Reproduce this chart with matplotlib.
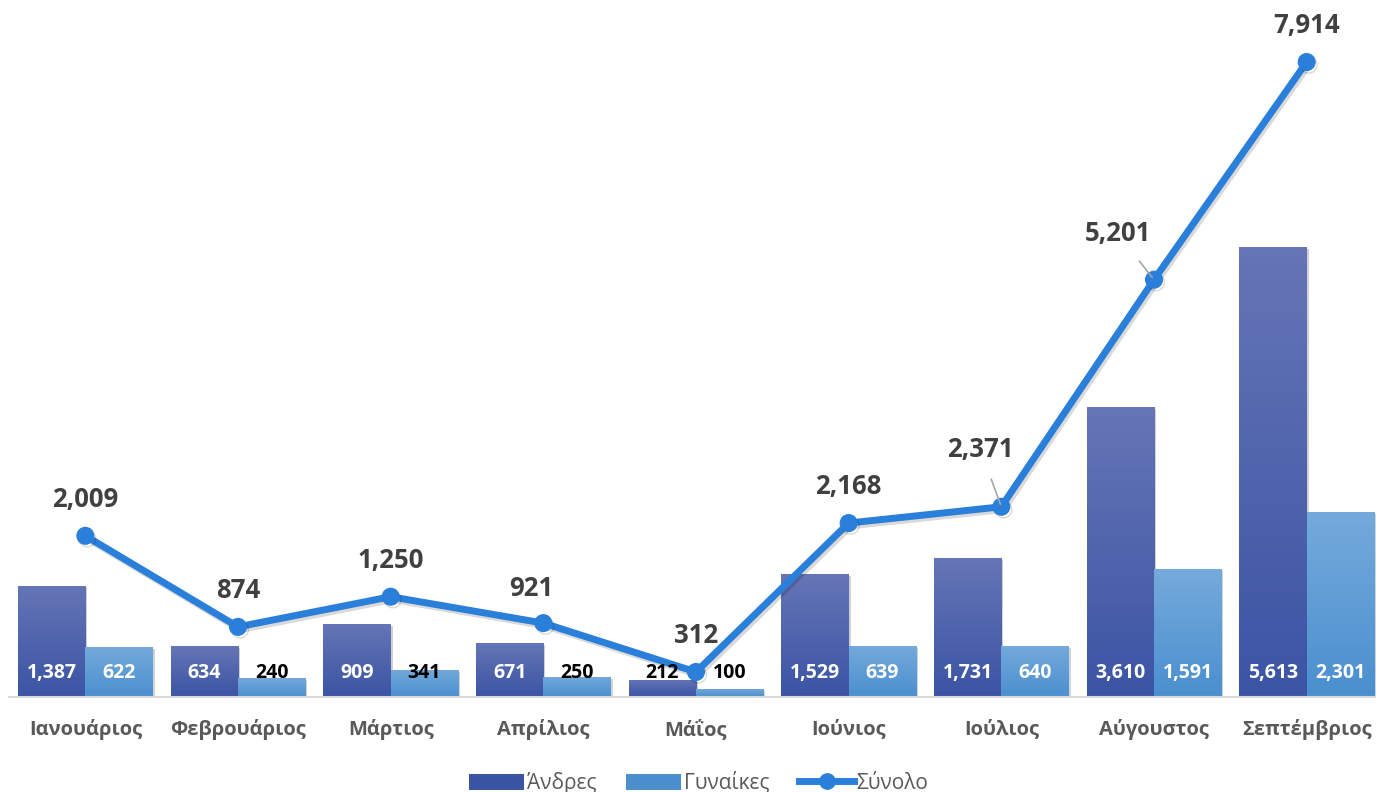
import matplotlib
matplotlib.use("Agg")
import matplotlib.pyplot as plt
import numpy as np
from matplotlib.lines import Line2D
from matplotlib.patches import Patch
import matplotlib.patheffects as pe

plt.rcParams['font.family'] = ['Open Sans', 'DejaVu Sans']

months = ["Ιανουάριος", "Φεβρουάριος", "Μάρτιος", "Απρίλιος", "Μάΐος",
          "Ιούνιος", "Ιούλιος", "Αύγουστος", "Σεπτέμβριος"]
men = [1387, 634, 909, 671, 212, 1529, 1731, 3610, 5613]
women = [622, 240, 341, 250, 100, 639, 640, 1591, 2301]
total = [2009, 874, 1250, 921, 312, 2168, 2371, 5201, 7914]
series_names = ["Άνδρες", "Γυναίκες", "Σύνολο"]

W, H = 1376, 792
fig = plt.figure(figsize=(W / 100, H / 100), dpi=100)
ax = fig.add_axes([9 / W, 1 - 697 / H, 1374 / W, 690 / H])

x = np.arange(len(months))
bw = 0.44
men_c = ("#6575b6", "#3b54a4")
wom_c = ("#74aadb", "#4b8fcf")
line_c = "#2a7fda"

bars_m = ax.bar(x - bw / 2, men, bw, color=men_c[1], zorder=2)
bars_w = ax.bar(x + bw / 2, women, bw, color=wom_c[1], zorder=2)

def gradient(bars, c):
    top = np.array(matplotlib.colors.to_rgb(c[0]))
    bot = np.array(matplotlib.colors.to_rgb(c[1]))
    t = np.linspace(0, 1, 64)[:, None]
    img = (top[None, :] * (1 - t) + bot[None, :] * t)[:, None, :]
    for b in bars:
        x0, y0 = b.get_x(), b.get_y()
        im = ax.imshow(img, extent=(x0, x0 + b.get_width(), y0, y0 + b.get_height()),
                       aspect='auto', zorder=2.1, origin='upper')
        im.set_clip_path(b)
        b.set_path_effects([pe.SimplePatchShadow(offset=(1.5, -1.5), alpha=0.2), pe.Normal()])

gradient(bars_m, men_c)
gradient(bars_w, wom_c)

ax.plot(x, total, color=line_c, lw=5, marker='o', ms=12, zorder=4,
        solid_capstyle='round',
        path_effects=[pe.SimpleLineShadow(offset=(1.5, -2), alpha=0.15), pe.Normal()])

# bar labels
for bars, vals in ((bars_m, men), (bars_w, women)):
    for b, v in zip(bars, vals):
        col = "white" if v > 400 else "black"
        ax.annotate(f"{v:,}", xy=(b.get_x() + b.get_width() / 2, 0),
                    xytext=(0, 17), textcoords='offset points',
                    ha='center', va='center', fontsize=14, fontweight='bold',
                    color=col, zorder=5)

# line labels
offsets = {3: (-9, 25), 6: (-15, 41), 7: (-26, 33)}
for i, v in enumerate(total):
    dx, dy = offsets.get(i, (0, 26))
    kw = {}
    if i in (6, 7):
        kw['arrowprops'] = dict(arrowstyle='-', color='#a6a6a6', lw=1.2,
                                shrinkA=10, shrinkB=2)
    ax.annotate(f"{v:,}", xy=(x[i], v), xytext=(dx, dy), textcoords='offset points',
                ha='center', va='center', fontsize=18.5, fontweight='bold',
                color="#404040", zorder=5, **kw)

ax.set_xlim(-0.5, len(months) - 0.5)
ax.set_ylim(0, 8600)
ax.set_xticks(x)
ax.set_xticklabels(months, fontsize=14.5, fontweight='bold', color="#595959")
ax.tick_params(axis='x', length=0, pad=16)
ax.set_yticks([])
for s in ("left", "right", "top"):
    ax.spines[s].set_visible(False)
ax.spines["bottom"].set_color("#d9d9d9")
ax.spines["bottom"].set_linewidth(1.5)
ax.patch.set_alpha(0)

handles = [Patch(facecolor=men_c[1]), Patch(facecolor=wom_c[1]),
           Line2D([0], [0], color=line_c, lw=5, marker='o', ms=11)]
fig.legend(handles, series_names, loc='center', bbox_to_anchor=(699 / W, 1 - 783 / H),
           ncol=3, frameon=False, fontsize=15, labelcolor="#595959",
           handlelength=2.6, handletextpad=0.15, columnspacing=1.45, handleheight=0.8)

fig.savefig("out.png", dpi=100)
